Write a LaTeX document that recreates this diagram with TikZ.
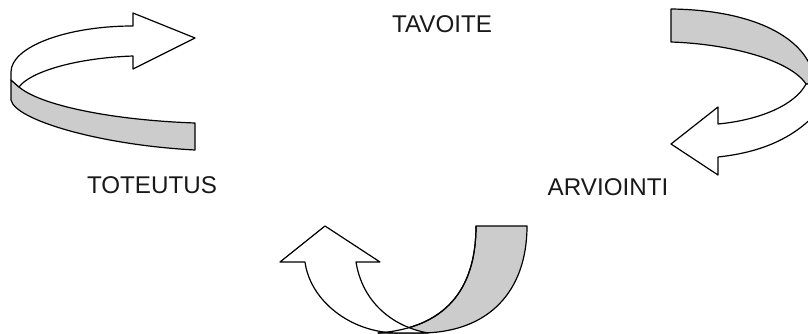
\documentclass[tikz,border=0pt]{standalone}
\usepackage{fontspec}
\setmainfont{Liberation Sans}
\begin{document}
\begin{tikzpicture}[x=1pt,y=-1pt,line join=round,
  ribbon/.style={fill=black!20,draw=black,line width=1.2pt},
  band/.style={fill=white,draw=black,line width=1.2pt},
  edge/.style={draw=black,line width=1.2pt},
  lbl/.style={font=\fontsize{24.2}{28}\selectfont,text=black!90,anchor=base,inner sep=0pt}]
\useasboundingbox (0,0) rectangle (808,334);
\begin{scope}
\clip (0,0) rectangle (808,334);
% top-left arrow
\path[ribbon] (11,80) -- (11,100) .. controls (15,120) and (100,145) .. (195,150) -- (195,123) .. controls (110,120) and (40,105) .. (19,87) -- cycle;
\path[band] (195,38) -- (133,13) -- (133,26) .. controls (66,26) and (11,47) .. (11,72) -- (11,80) -- (19,87) .. controls (30,72) and (75,58) .. (133,56) -- (133,69) -- cycle;
% top-right arrow
\path[ribbon] (671,9) .. controls (750,10) and (800,35) .. (812,70) -- (812,84) -- (806,84) .. controls (790,60) and (730,44) .. (671,42) -- cycle;
\path[band] (671,144) -- (718,107) -- (718,124) .. controls (760,120) and (795,105) .. (806,84) -- (830,84) -- (830,95) .. controls (805,135) and (765,152) .. (718,157) -- (718,175) -- cycle;
% bottom arrow
\path[ribbon] (476,226) -- (527,226) .. controls (527,290) and (490,333) .. (420,333) -- (378,333) .. controls (445,328) and (476,290) .. (476,226) -- cycle;
\path[band] (325,226) -- (380,262) -- (356,262) .. controls (362,300) and (390,326) .. (428,333) -- (398,333) .. controls (350,333) and (310,300) .. (305,262) -- (280,262) -- cycle;
\path[edge] (476,226) .. controls (476,290) and (445,328) .. (378,333);
\end{scope}
\node[lbl] (tavoite) at (442,33) {TAVOITE};
\node[lbl] (toteutus) at (152,193) {TOTEUTUS};
\node[lbl] (arviointi) at (608,195) {ARVIOINTI};
\end{tikzpicture}
\end{document}
